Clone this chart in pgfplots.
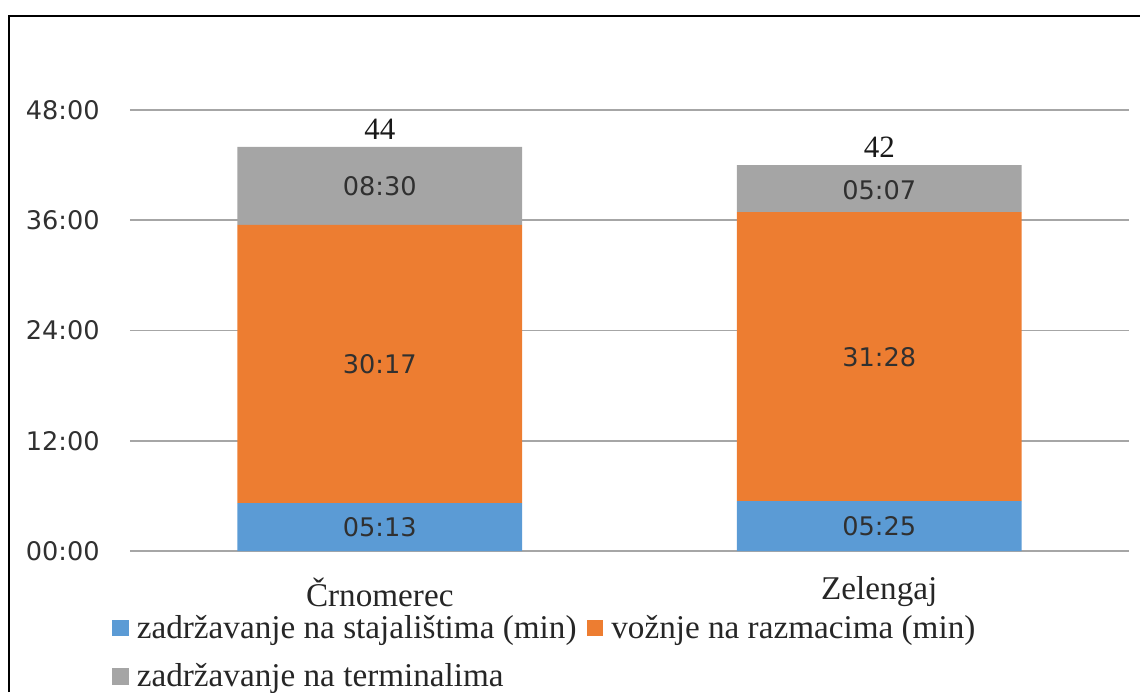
\documentclass[border=0pt]{standalone}
\usepackage{pgfplots}
\pgfplotsset{compat=1.18}
\usepackage{fontspec}
\setmainfont{Liberation Serif}
\newfontfamily\dejavu{DejaVu Sans}
\definecolor{cblue}{HTML}{5B9BD5}
\definecolor{corange}{HTML}{ED7D31}
\definecolor{cgray}{HTML}{A5A5A5}
\definecolor{cgrid}{HTML}{A6A6A6}
\definecolor{ctext}{HTML}{303030}
\begin{document}
\begin{tikzpicture}
\path[use as bounding box] (-65pt,-70.5pt) rectangle (505pt,275.5pt);
\draw[line width=1pt, black] (-60.5pt,-70.5pt) -- (-60.5pt,267.5pt) -- (505pt,267.5pt);
\begin{axis}[
  at={(0,0)}, anchor=south west,
  scale only axis, width=499.5pt, height=220.5pt,
  xmin=-0.5, xmax=1.5, ymin=0, ymax=48,
  ybar stacked, bar width=0.57,
  axis line style={draw=none},
  major tick length=0pt,
  ymajorgrids, grid style={cgrid, line width=0.9pt},
  xtick={0,1}, xticklabels={Črnomerec, Zelengaj},
  xticklabel style={anchor=center, yshift=-20.5pt, font=\fontsize{16.6pt}{19pt}\selectfont, text=black!85},
  ytick={0,12,24,36,48},
  yticklabels={00:00,12:00,24:00,36:00,48:00},
  yticklabel style={anchor=east, inner sep=0pt, xshift=-15pt, font=\dejavu\fontsize{12.8pt}{15pt}\selectfont, text=ctext},
  legend columns=2,
  legend cell align=left,
  legend style={draw=none, fill=none, at={(-0.018,-0.136)}, anchor=north west,
    inner sep=0pt, outer sep=0pt, row sep=7pt,
    font=\fontsize{16.6pt}{19pt}\selectfont, text=black!85,
    /tikz/every odd column/.append style={column sep=2pt},
    /tikz/every even column/.append style={column sep=3pt}},
  legend image code/.code={\fill[#1, draw=none] (0pt,-4.2pt) rectangle (8.4pt,4.2pt);},
]
\addplot[fill=cblue, draw=none] coordinates {(0,5.2167) (1,5.4167)};
\addlegendentry{zadržavanje na stajalištima (min)}
\addplot[fill=corange, draw=none] coordinates {(0,30.2833) (1,31.4667)};
\addlegendentry{vožnje na razmacima (min)}
\addplot[fill=cgray, draw=none] coordinates {(0,8.5) (1,5.1167)};
\addlegendentry{zadržavanje na terminalima}
\end{axis}
\begin{axis}[
  at={(0,0)}, anchor=south west,
  scale only axis, width=499.5pt, height=220.5pt,
  xmin=-0.5, xmax=1.5, ymin=0, ymax=48,
  hide axis, clip=false,
]
\addplot[draw=none, mark=none, nodes near coords, point meta=explicit symbolic,
  every node near coord/.append style={anchor=center, inner sep=0pt, text=ctext, font=\dejavu\fontsize{12.8pt}{15pt}\selectfont}]
  coordinates {(0,2.608) [05:13] (1,2.708) [05:25]
               (0,20.358) [30:17] (1,21.15) [31:28]
               (0,39.75) [08:30] (1,39.3) [05:07]};
\addplot[draw=none, mark=none, nodes near coords, point meta=explicit symbolic,
  every node near coord/.append style={anchor=south, inner sep=0pt, yshift=3.5pt, text=black!90, font=\fontsize{15.5pt}{18pt}\selectfont}]
  coordinates {(0,44) [44] (1,42) [42]};
\end{axis}
\end{tikzpicture}
\end{document}
